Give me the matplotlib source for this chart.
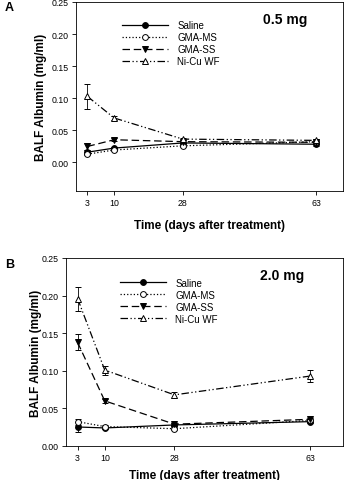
import numpy as np
import matplotlib
matplotlib.use('Agg')
import matplotlib.pyplot as plt
from matplotlib.lines import Line2D

plt.rcParams['font.family'] = ['Liberation Sans', 'DejaVu Sans']

days = [3, 10, 28, 63]
labels = ['Saline', 'GMA-MS', 'GMA-SS', 'Ni-Cu WF']

# Panel A (0.5 mg)
a_saline = [0.0156, 0.022, 0.030, 0.028]
a_ms = [0.0125, 0.019, 0.0255, 0.032]
a_ss = [0.0245, 0.035, 0.032, 0.031]
a_nicu = [0.1026, 0.069, 0.036, 0.034]
a_saline_err = [0.003, 0.002, 0.002, 0.002]
a_ms_err = [0.002, 0.002, 0.002, 0.002]
a_ss_err = [0.005, 0.002, 0.002, 0.002]
a_nicu_err = [0.020, 0.003, 0.002, 0.002]

# Panel B (2.0 mg)
b_saline = [0.0253, 0.024, 0.028, 0.0324]
b_ms = [0.0324, 0.0258, 0.023, 0.034]
b_ss = [0.1377, 0.060, 0.029, 0.0355]
b_nicu = [0.196, 0.101, 0.068, 0.093]
b_saline_err = [0.007, 0.002, 0.002, 0.002]
b_ms_err = [0.004, 0.002, 0.002, 0.002]
b_ss_err = [0.0107, 0.003, 0.002, 0.002]
b_nicu_err = [0.016, 0.006, 0.004, 0.0085]

styles = [
    dict(linestyle='-', marker='o', mfc='black', mec='black'),
    dict(linestyle=':', marker='o', mfc='white', mec='black'),
    dict(linestyle=(0, (6, 3)), marker='v', mfc='black', mec='black'),
    dict(linestyle=(0, (6, 2, 1, 2, 1, 2)), marker='^', mfc='white', mec='black'),
]

W, H = 345, 481
fig = plt.figure(figsize=(W / 100, H / 100), dpi=100)


def make_ax(left, top, right, bottom):
    return fig.add_axes([left / W, 1 - bottom / H, (right - left) / W, (bottom - top) / H])


def panel(ax, series, errs, dose, ylo, xhi, ylab_x, xpad, leg_x, leg_y):
    for ys, es, lab, st in zip(series, errs, labels, styles):
        ax.errorbar(days, ys, yerr=es, color='black', lw=0.9, markersize=4.2,
                    mew=0.7, capsize=2.5, elinewidth=0.6, capthick=0.6, **st)
    ax.set_xlim(0, xhi)
    ax.set_ylim(ylo, 0.25)
    ax.set_xticks(days)
    ax.set_yticks([0, 0.05, 0.10, 0.15, 0.20, 0.25])
    ax.set_yticklabels(['0.00', '0.05', '0.10', '0.15', '0.20', '0.25'])
    ax.tick_params(labelsize=6.3, length=3, width=0.6, pad=2)
    for s in ax.spines.values():
        s.set_linewidth(0.6)
    ax.set_xlabel('Time (days after treatment)', fontsize=8.5, fontweight='bold', labelpad=xpad)
    ax.set_ylabel('BALF Albumin (mg/ml)', fontsize=8.5, fontweight='bold')
    ax.yaxis.set_label_coords(ylab_x, 0.5)
    ax.text(0.70, 0.89, dose, transform=ax.transAxes, fontsize=10, fontweight='bold')
    handles = [Line2D([], [], color='black', lw=0.9, markersize=4.2, mew=0.7, **st)
               for st in styles]
    ax.legend(handles, labels, loc='upper left', bbox_to_anchor=(leg_x, leg_y),
              frameon=False, fontsize=7, handlelength=4.7, labelspacing=0.2,
              handletextpad=1.0, borderpad=0)


axA = make_ax(76, 3, 343, 192)
panel(axA, [a_saline, a_ms, a_ss, a_nicu], [a_saline_err, a_ms_err, a_ss_err, a_nicu_err],
      '0.5 mg', -0.045, 70, -0.11, 9, 0.154, 0.93)
fig.text(5 / W, 1 - 11 / H, 'A', fontsize=9, fontweight='bold')

axB = make_ax(66, 259, 343, 447)
panel(axB, [b_saline, b_ms, b_ss, b_nicu], [b_saline_err, b_ms_err, b_ss_err, b_nicu_err],
      '2.0 mg', 0, 71.5, -0.088, 5, 0.177, 0.92)
fig.text(5 / W, 1 - 268 / H, 'B', fontsize=9, fontweight='bold')

fig.savefig('out.png', dpi=100)
